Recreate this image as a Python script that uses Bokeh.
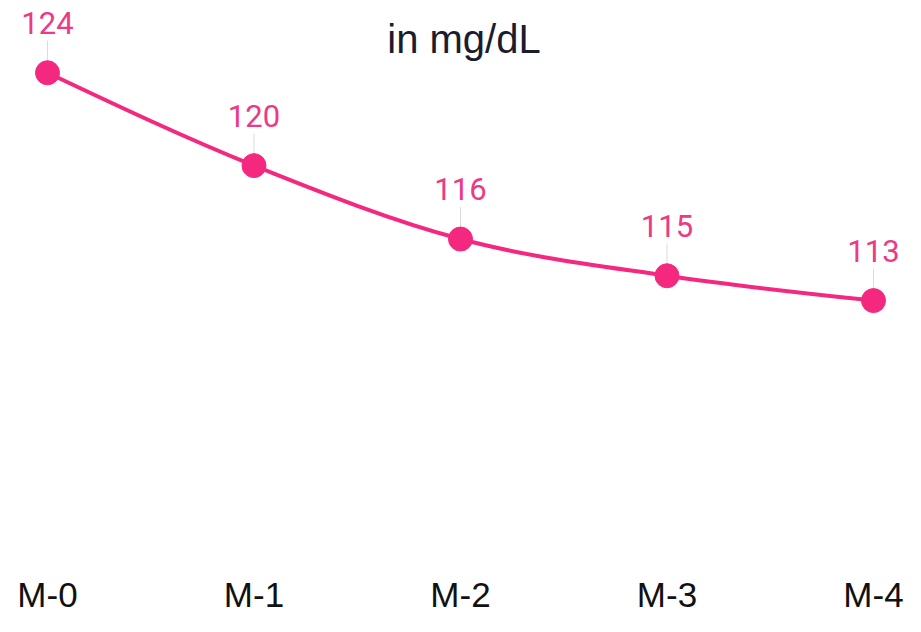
import numpy as np
from bokeh.plotting import figure
from bokeh.models import Range1d, FixedTicker, Label
from bokeh.embed import file_html
from bokeh.resources import INLINE
from bokeh.core.properties import value

# ---- data ----
months = ["M-0", "M-1", "M-2", "M-3", "M-4"]
glucose = [124.0, 119.7, 116.3, 114.6, 113.45]
title_text = "in mg/dL"

x = list(range(len(months)))
labels = [f"{round(v)}" for v in glucose]

PINK = "#F5287F"
PINK_TXT = "#EC3A84"
PX_PER_UNIT = 21.5  # vertical pixels per mg/dL in this layout

p = figure(width=905, height=616, output_backend="svg", toolbar_location=None,
           x_range=Range1d(-0.2276, 4.155), y_range=Range1d(100.86, 127.346),
           y_axis_location=None, min_border_left=0, min_border_right=0,
           min_border_top=0, min_border_bottom=0)
p.outline_line_color = None
p.xgrid.visible = False
p.ygrid.visible = False
p.background_fill_color = "white"
p.border_fill_color = "white"


# ---- smooth (monotone-x) curve through the points, as cubic beziers ----
def monotone_beziers(xs, ys):
    xs = np.asarray(xs, float)
    ys = np.asarray(ys, float)
    n = len(xs)
    h = np.diff(xs)
    s = np.diff(ys) / h
    t = np.zeros(n)
    for i in range(1, n - 1):
        pp = (s[i - 1] * h[i] + s[i] * h[i - 1]) / (h[i - 1] + h[i])
        t[i] = (np.sign(s[i - 1]) + np.sign(s[i])) * min(abs(s[i - 1]), abs(s[i]), 0.5 * abs(pp))
    t[0] = (3 * s[0] - t[1]) / 2
    t[-1] = (3 * s[-1] - t[-2]) / 2
    d = dict(x0=[], y0=[], x1=[], y1=[], cx0=[], cy0=[], cx1=[], cy1=[])
    for i in range(n - 1):
        dx = h[i] / 3
        d["x0"].append(xs[i]); d["y0"].append(ys[i])
        d["x1"].append(xs[i + 1]); d["y1"].append(ys[i + 1])
        d["cx0"].append(xs[i] + dx); d["cy0"].append(ys[i] + dx * t[i])
        d["cx1"].append(xs[i + 1] - dx); d["cy1"].append(ys[i + 1] - dx * t[i + 1])
    return d


# leader lines from point up to its label
leader = 32 / PX_PER_UNIT
p.segment(x0=x, y0=glucose, x1=x, y1=[v + leader for v in glucose],
          line_color="#dcdcdc", line_width=1)

bz = monotone_beziers(x, glucose)
p.bezier(line_color=PINK, line_width=4, **bz)

p.scatter(x, glucose, size=24, fill_color=PINK, line_color=PINK, line_width=1)

p.text(x, glucose, text=labels, text_font=value("Roboto"), text_font_size="31px",
       text_color=PINK_TXT, text_align="center", text_baseline="alphabetic",
       y_offset=-50)

# title inside plot area
p.add_layout(Label(x=2.017, y=125.58, text=title_text, text_align="center",
                   text_baseline="alphabetic", text_font="Liberation Sans",
                   text_font_size="40px", text_color="#1b1c2e"))

# x axis
p.xaxis.ticker = FixedTicker(ticks=x)
p.xaxis.major_label_overrides = {i: m for i, m in zip(x, months)}
p.xaxis.major_label_text_font = "Liberation Sans"
p.xaxis.major_label_text_font_size = "35px"
p.xaxis.major_label_text_color = "#111111"
p.xaxis.axis_line_color = None
p.xaxis.major_tick_line_color = None
p.xaxis.minor_tick_line_color = None
p.xaxis.major_tick_out = 0
p.xaxis.major_label_standoff = 2

open("out.html", "w").write(file_html(p, INLINE))
